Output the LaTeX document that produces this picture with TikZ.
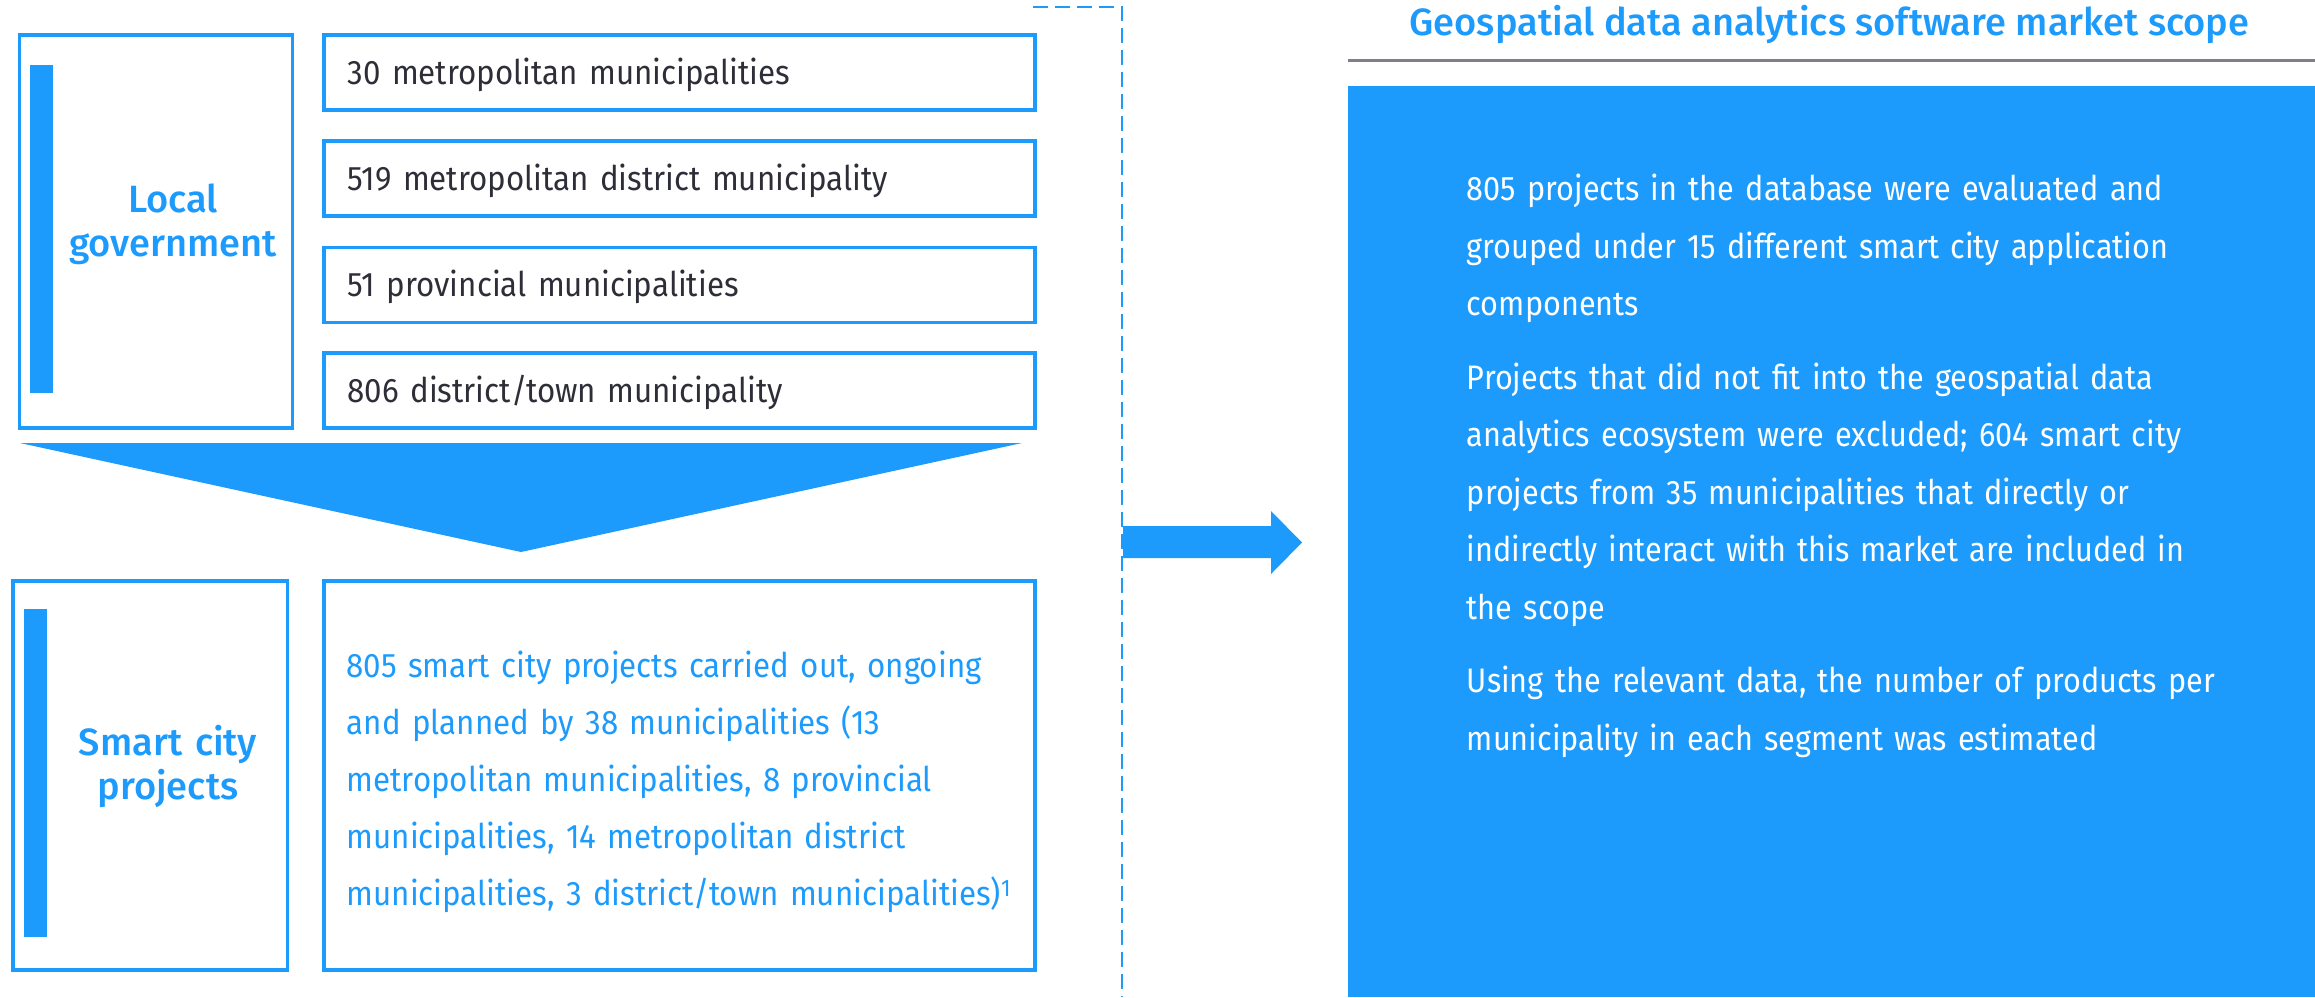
\documentclass[tikz,border=0pt]{standalone}
\usepackage{fontspec}
\setmainfont{Fira Sans}
\newfontfamily\medfont{Fira Sans Medium}
\newfontfamily\bodyfont{Fira Sans}[FakeStretch=0.92]
\newfontfamily\whitefont{Fira Sans}[FakeStretch=0.90]
\definecolor{eyblue}{HTML}{1C9BFC}
\definecolor{eydark}{HTML}{2E2E38}
\definecolor{rulegray}{HTML}{7F7F87}
\begin{document}
\begin{tikzpicture}[x=1pt,y=-1pt,
  frame/.style={draw=eyblue, line width=3.5pt, anchor=north west, inner sep=0pt},
  itembox/.style={frame, minimum width=711pt, minimum height=75pt, inner xsep=24pt,
     text width=663pt, align=left, text height=24pt, text depth=0pt,
     font=\bodyfont\fontsize{34}{40}\selectfont, text=eydark},
  bar/.style={fill=eyblue, draw=none},
  bodytext/.style={inner sep=0pt, anchor=base west, align=left, text width=880pt,
     font=\bodyfont\fontsize{34}{57}\selectfont},
  lbl/.style={font=\medfont\fontsize{38}{44.5}\selectfont, text=eyblue, inner sep=0pt,
     anchor=base, align=center, text width=270pt},
]
\useasboundingbox (0,0) rectangle (2315,997);
% local government
\node[frame, minimum width=273pt, minimum height=393pt] (lg) at (17.5,33) {};
\fill[bar] (29.5,65) rectangle (53,393);
\node[lbl] (lgt) at (173,212.3) {Local\\government};
\node[itembox] (b1) at (322,33) {30 metropolitan municipalities};
\node[itembox] (b2) at (322,139.3) {519 metropolitan district municipality};
\node[itembox] (b3) at (322,245.6) {51 provincial municipalities};
\node[itembox] (b4) at (322,351) {806 district/town municipality};
% chevron
\fill[eyblue] (20,443) -- (1022,443) -- (521,552) -- cycle;
% smart city projects
\node[frame, minimum width=274.5pt, minimum height=389pt] (sc) at (11,579) {};
\fill[bar] (23.5,609) rectangle (46.5,937);
\node[lbl] (sct) at (168,755) {Smart city\\projects};
\node[frame, minimum width=711pt, minimum height=389pt] (pr) at (322,579) {};
\node[bodytext, text=eyblue] (prt) at (346.5,677.7) {805 smart city projects carried out, ongoing\\
and planned by 38 municipalities (13\\
metropolitan municipalities, 8 provincial\\
municipalities, 14 metropolitan district\\
municipalities, 3 district/town municipalities)\textsuperscript{1}};
% dashed divider
\coordinate (d0) at (1033,7);
\coordinate (d1) at (1122,7);
\coordinate (d2) at (1122,997);
\draw[eyblue, line width=2pt, dash pattern=on 15pt off 7pt] (d0) -- (d1) -- (d2);
% arrow
\fill[eyblue] (1123,526) -- (1271,526) -- (1271,511) -- (1302,542.5) -- (1271,574) -- (1271,558) -- (1123,558) -- cycle;
% right side
\node[anchor=base, inner sep=0pt, font=\medfont\fontsize{38}{38}\selectfont, text=eyblue] (title) at (1829.5,35.7) {Geospatial data analytics software market scope};
\draw[rulegray, line width=2.5pt] (1348,60.5) -- (2315,60.5);
\fill[eyblue] (1348,86) rectangle (2315,997);
\node[bodytext, text=white, font=\whitefont\fontsize{34}{57.5}\selectfont] (scope) at (1466.7,200.7) {805 projects in the database were evaluated and\\
grouped under 15 different smart city application\\
components\\[16pt]
Projects that did not fit into the geospatial data\\
analytics ecosystem were excluded; 604 smart city\\
projects from 35 municipalities that directly or\\
indirectly interact with this market are included in\\
the scope\\[16pt]
Using the relevant data, the number of products per\\
municipality in each segment was estimated};
\end{tikzpicture}
\end{document}
